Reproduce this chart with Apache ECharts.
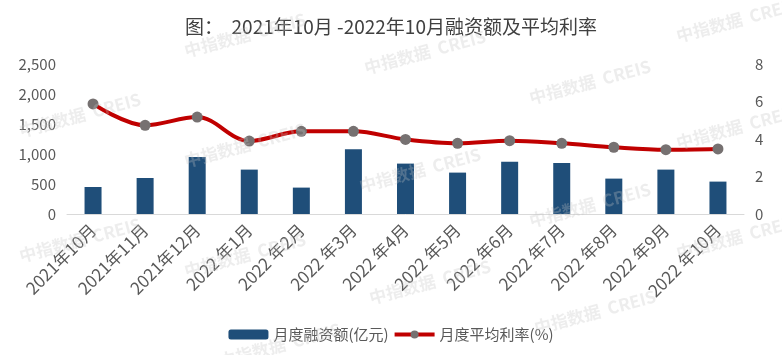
<!DOCTYPE html>
<html><head><meta charset="utf-8">
<script src="https://cdn.jsdelivr.net/npm/echarts@6/dist/echarts.min.js"></script>
<style>html,body{margin:0;padding:0;background:#fff}#c{width:782px;height:355px}</style>
</head><body><div id="c"></div>
<script>
const categories = ['2021年10月','2021年11月','2021年12月','2022 年1月','2022 年2月','2022 年3月','2022 年4月','2022 年5月','2022 年6月','2022 年7月','2022 年8月','2022 年9月','2022 年10月'];
const financing = [450, 600, 950, 740, 440, 1080, 840, 690, 870, 850, 590, 740, 540];
const rates = [5.87, 4.73, 5.17, 3.89, 4.41, 4.41, 3.98, 3.77, 3.91, 3.77, 3.56, 3.43, 3.47];
const leftTicks = {min: 0, max: 2500, interval: 500};
const rightTicks = {min: 0, max: 8, interval: 2};
const wmSpots = [[80,115],[245,145],[420,170],[590,205],[737,127],[80,240],[245,255],[430,282],[595,312],[737,237],[245,35],[425,52],[590,82],[737,20],[280,345]];

const font = '"Noto Sans CJK SC", "Noto Sans", sans-serif';
const chart = echarts.init(document.getElementById('c'));
const watermarks = wmSpots.map(p => ({
  type: 'text', x: p[0], y: p[1], rotation: Math.PI / 12, z: 100,
  style: {text: '中指数据  CREIS', fill: 'rgba(195,195,195,0.3)', font: 'bold 17px ' + font, align: 'center', verticalAlign: 'middle'}
}));
chart.setOption({
  animation: false,
  title: {text: '图：  2021年10月 -2022年10月融资额及平均利率', left: 'center', top: 12,
    textStyle: {fontFamily: font, fontSize: 19, fontWeight: 'normal', color: '#404040'}},
  grid: {left: 67, right: 38, top: 64, bottom: 141},
  legend: {bottom: 8, left: 'center', itemWidth: 40, itemHeight: 10, itemGap: 4,
    textStyle: {fontFamily: font, fontSize: 15, color: '#595959'},
    data: [{name: '月度融资额(亿元)'}, {name: '月度平均利率(%)', lineStyle: {width: 4, color: '#C00000'}}]},
  xAxis: {type: 'category', data: categories,
    axisLine: {lineStyle: {color: '#d9d9d9'}}, axisTick: {show: false},
    axisLabel: {rotate: 45, interval: 0, fontFamily: font, fontSize: 17, color: '#595959', margin: 13}},
  yAxis: [
    {type: 'value', min: leftTicks.min, max: leftTicks.max, interval: leftTicks.interval,
      splitLine: {show: false}, axisLine: {show: false}, axisTick: {show: false},
      axisLabel: {fontFamily: font, fontSize: 15, color: '#595959', margin: 11,
        formatter: v => v.toLocaleString('en-US')}},
    {type: 'value', min: rightTicks.min, max: rightTicks.max, interval: rightTicks.interval,
      splitLine: {show: false}, axisLine: {show: false}, axisTick: {show: false},
      axisLabel: {fontFamily: font, fontSize: 15, color: '#595959', margin: 11}}
  ],
  series: [
    {name: '月度融资额(亿元)', type: 'bar', data: financing, barWidth: 17,
      itemStyle: {color: '#1F4E79'}},
    {name: '月度平均利率(%)', type: 'line', yAxisIndex: 1, data: rates, smooth: 0.35,
      symbol: 'circle', symbolSize: 11,
      lineStyle: {color: '#C00000', width: 4},
      itemStyle: {color: '#767171'}}
  ],
  graphic: watermarks
});
</script></body></html>
